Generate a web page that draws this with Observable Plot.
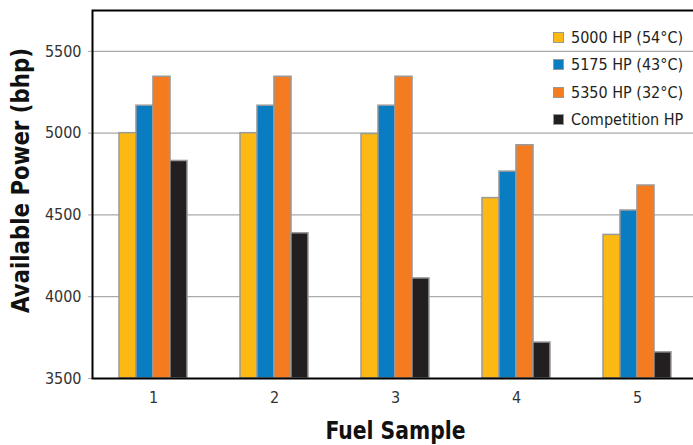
<!DOCTYPE html>
<html><head><meta charset="utf-8">
<script src="https://cdn.jsdelivr.net/npm/d3@7"></script>
<script src="https://cdn.jsdelivr.net/npm/@observablehq/plot@0.6"></script>
<style>
html,body{margin:0;padding:0;background:#fff;}
#wrap{position:relative;width:693px;height:445px;overflow:hidden;font-family:'Liberation Sans Narrow','DejaVu Sans Condensed',sans-serif;}
#legend{position:absolute;left:553px;top:24px;font-size:16px;color:#231F20;}
#legend .row{display:flex;align-items:center;height:27.3px;}
#legend .sw{width:9px;height:9px;border:1px solid #999;margin-right:7px;}
</style></head>
<body><div id="wrap"><div id="legend"></div></div>
<script>
const samples = ["1","2","3","4","5"];
const series = ["5000 HP (54°C)","5175 HP (43°C)","5350 HP (32°C)","Competition HP"];
const colors = ["#FDB913","#0A7DC2","#F47B20","#231F20"];
const values = [
  [5000, 5000, 4995, 4603, 4378],
  [5168, 5168, 5168, 4765, 4527],
  [5345, 5345, 5345, 4926, 4680],
  [4830, 4388, 4112, 3720, 3660]
];
const yTicks = [3500, 4000, 4500, 5000, 5500];

const font = "'Liberation Sans Narrow','DejaVu Sans Condensed',sans-serif";
const W = 693, H = 445, mL = 92, mR = -5, mT = 10, mB = 67;
const step = (W - mL - mR) / samples.length;
const padInner = 0.44;
const bw = step * (1 - padInner);
const q = bw / 4;

const barMarks = series.map((s, i) => Plot.barY(
  samples.map((smp, j) => ({sample: smp, value: values[i][j]})),
  {x: "sample", y1: 3500, y2: "value", fill: colors[i], stroke: "#9a9a9a", strokeWidth: 1.5,
   insetLeft: i * q, insetRight: (3 - i) * q}
));

const chart = Plot.plot({
  width: W, height: H,
  marginLeft: mL, marginRight: mR, marginTop: mT, marginBottom: mB,
  style: {fontFamily: font, background: "#fff", overflow: "visible"},
  x: {domain: samples, paddingInner: padInner, paddingOuter: padInner / 2, label: null},
  y: {domain: [3500, 5750], label: null},
  marks: [
    Plot.gridY(yTicks, {stroke: "#aaa", strokeOpacity: 1, strokeWidth: 1.2}),
    Plot.axisY({ticks: yTicks, tickFormat: d3.format("d"), tickSize: 4, tickPadding: 7, fontSize: 16, stroke: "#aaa", fill: "#333", label: null}),
    Plot.axisX({tickSize: 0, tickPadding: 13, fontSize: 16, fill: "#333", label: null}),
    ...barMarks,
    Plot.frame({stroke: "#000", strokeWidth: 2}),
    Plot.text(["Available Power (bhp)"], {frameAnchor: "left", dx: -72, dy: -14, rotate: -90, fontSize: 25, fontWeight: "bold", fill: "#111", textAnchor: "middle", className: "ytitle"}),
    Plot.text(["Fuel Sample"], {frameAnchor: "bottom", dy: 60, fontSize: 25, fontWeight: "bold", fill: "#111", textAnchor: "middle", className: "xtitle"})
  ]
});
document.getElementById("wrap").prepend(chart);
d3.select(chart).selectAll(".ytitle text").attr("textLength", 265).attr("lengthAdjust", "spacingAndGlyphs");
d3.select(chart).selectAll(".xtitle text").attr("textLength", 140).attr("lengthAdjust", "spacingAndGlyphs");

const lg = document.getElementById("legend");
series.forEach((s, i) => {
  const r = document.createElement("div"); r.className = "row";
  const sw = document.createElement("div"); sw.className = "sw"; sw.style.background = colors[i];
  const t = document.createElement("span"); t.textContent = s;
  r.append(sw, t); lg.append(r);
});
</script></body></html>
